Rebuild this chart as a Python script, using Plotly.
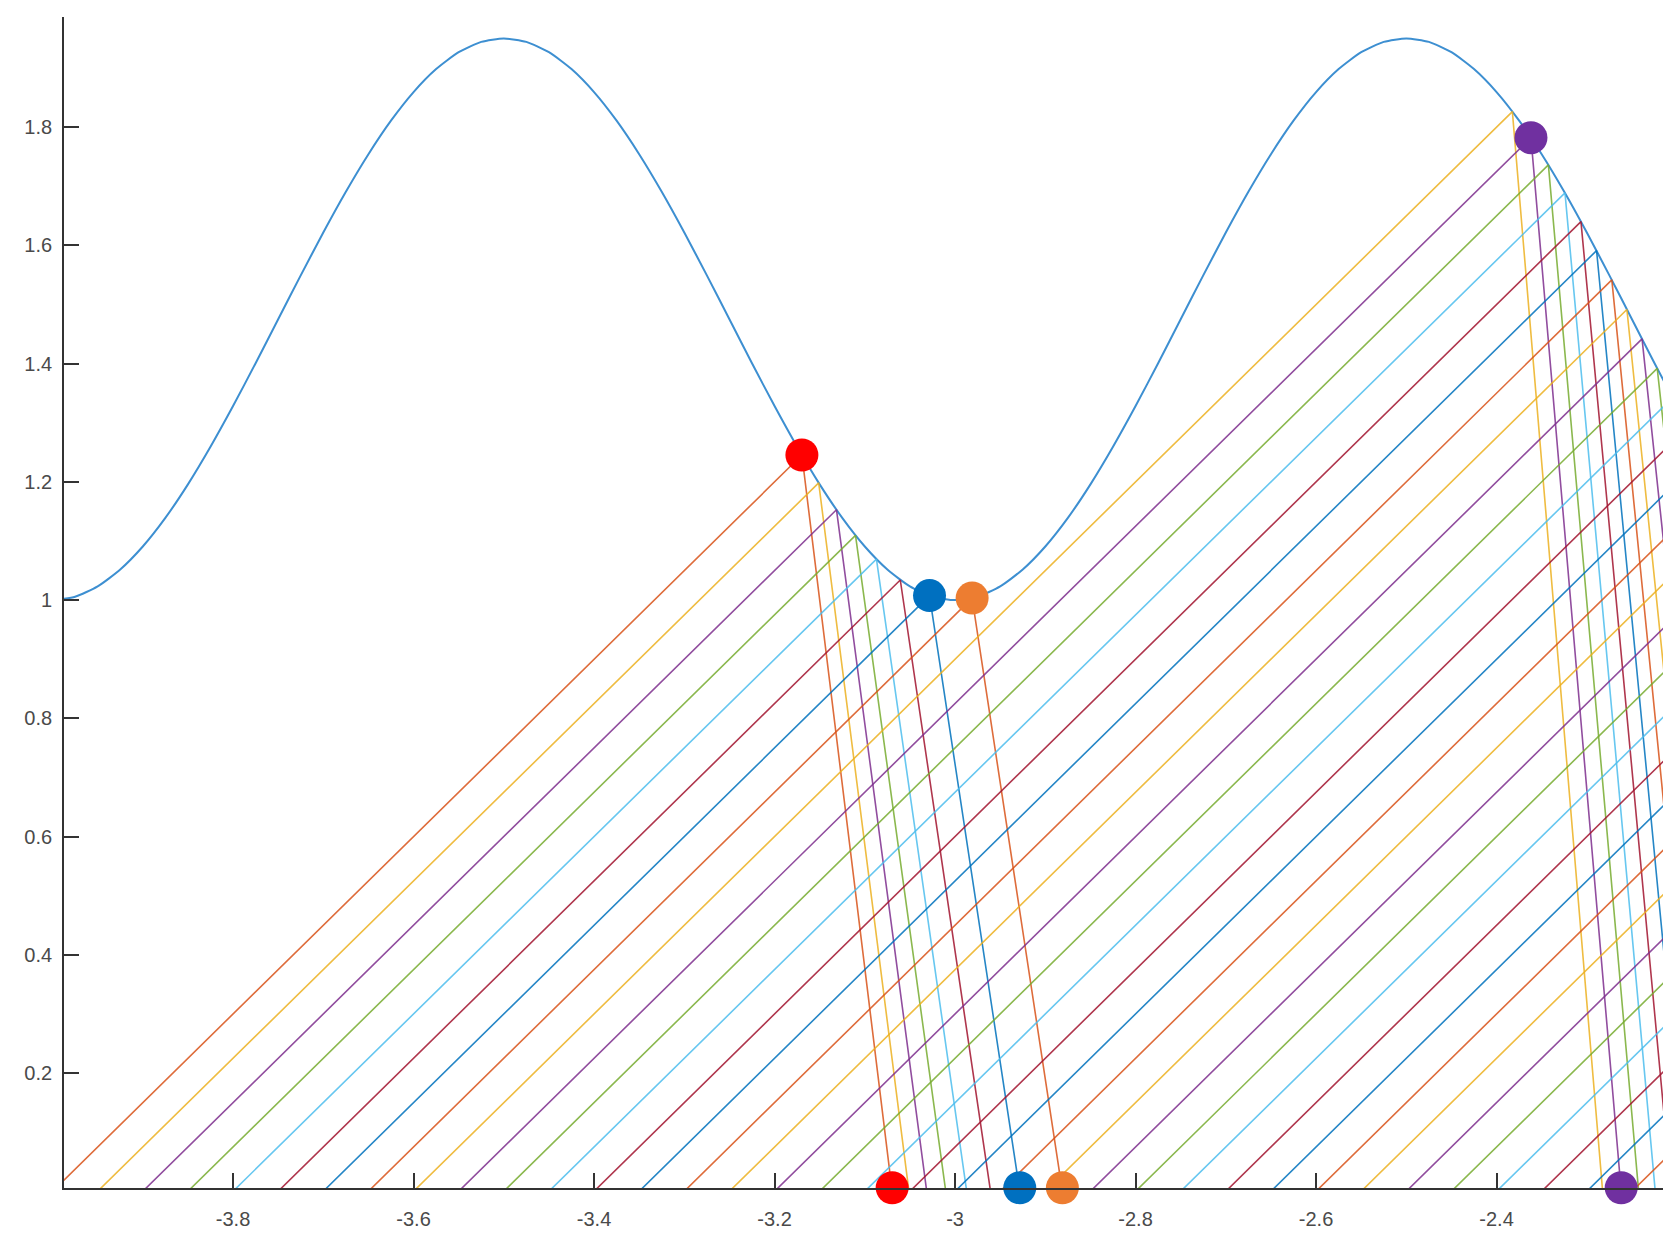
import plotly.graph_objects as go

# ---- data -------------------------------------------------------------
curve_x = [-4.0, -3.975, -3.95, -3.925, -3.9, -3.875, -3.85, -3.825, -3.8, -3.775,
           -3.75, -3.725, -3.7, -3.675, -3.65, -3.625, -3.6, -3.575, -3.55, -3.525,
           -3.5, -3.475, -3.45, -3.425, -3.4, -3.375, -3.35, -3.325, -3.3, -3.275,
           -3.25, -3.225, -3.2, -3.175, -3.15, -3.125, -3.1, -3.075, -3.05, -3.025,
           -3.0, -2.975, -2.95, -2.925, -2.9, -2.875, -2.85, -2.825, -2.8, -2.775,
           -2.75, -2.725, -2.7, -2.675, -2.65, -2.625, -2.6, -2.575, -2.55, -2.525,
           -2.5, -2.475, -2.45, -2.425, -2.4, -2.375, -2.35, -2.325, -2.3, -2.275,
           -2.25, -2.225, -2.2]
curve_y = [1.0, 1.0058, 1.0232, 1.0518, 1.0907, 1.1391, 1.1958, 1.2594, 1.3282, 1.4007,
           1.475, 1.5493, 1.6218, 1.6907, 1.7542, 1.8109, 1.8593, 1.8982, 1.9268, 1.9442,
           1.95, 1.9442, 1.9268, 1.8982, 1.8593, 1.8109, 1.7542, 1.6907, 1.6218, 1.5493,
           1.475, 1.4007, 1.3282, 1.2594, 1.1958, 1.1391, 1.0907, 1.0518, 1.0232, 1.0058,
           1.0, 1.0058, 1.0232, 1.0518, 1.0907, 1.1391, 1.1958, 1.2594, 1.3282, 1.4007,
           1.475, 1.5493, 1.6218, 1.6907, 1.7542, 1.8109, 1.8593, 1.8982, 1.9268, 1.9442,
           1.95, 1.9442, 1.9268, 1.8982, 1.8593, 1.8109, 1.7542, 1.6907, 1.6218, 1.5493,
           1.475, 1.4007, 1.3282]

# rays: start on the axis, rise to the curve, drop back to the axis
ray_start_x = [-4.0, -3.95, -3.9, -3.85, -3.8, -3.75, -3.7, -3.65, -3.6, -3.55,
               -3.5, -3.45, -3.4, -3.35, -3.3, -3.25, -3.2, -3.15, -3.1, -3.05,
               -3.0, -2.95, -2.9, -2.85, -2.8, -2.75, -2.7, -2.65, -2.6, -2.55,
               -2.5, -2.45, -2.4, -2.35, -2.3, -2.25, -2.2]
ray_hit_x = [-3.1697, -3.1511, -3.1314, -3.1103, -3.0871, -3.0607, -3.0283, -2.9811, -2.3825, -2.3619,
             -2.3426, -2.3242, -2.3065, -2.2892, -2.2723, -2.2556, -2.2388, -2.222, -2.205, -2.1876,
             -2.1697, -2.1511, -2.1314, -2.1103, -2.0871, -2.0607, -2.0283, -1.9811, -1.3825, -1.3619,
             -1.3426, -1.3242, -1.3065, -1.2892, -1.2723, -1.2556, -1.2388]
ray_hit_y = [1.2454, 1.1983, 1.1529, 1.1096, 1.0694, 1.034, 1.0076, 1.0034, 1.8262, 1.7822,
             1.7361, 1.6887, 1.6403, 1.5912, 1.5416, 1.4916, 1.4418, 1.392, 1.3425, 1.2936,
             1.2454, 1.1983, 1.1529, 1.1096, 1.0694, 1.034, 1.0076, 1.0034, 1.8262, 1.7822,
             1.7361, 1.6887, 1.6403, 1.5912, 1.5416, 1.4916, 1.4418]
ray_end_x = [-3.0697, -3.0511, -3.0314, -3.0103, -2.9871, -2.9607, -2.9283, -2.8811, -2.2825, -2.2619,
             -2.2426, -2.2242, -2.2065, -2.1892, -2.1723, -2.1556, -2.1388, -2.122, -2.105, -2.0876,
             -2.0697, -2.0511, -2.0314, -2.0103, -1.9871, -1.9607, -1.9283, -1.8811, -1.2825, -1.2619,
             -1.2426, -1.2242, -1.2065, -1.1892, -1.1723, -1.1556, -1.1388]

# highlighted points (on the curve and where their ray lands on the axis)
dot_top_x = [-3.1697, -3.0283, -2.9811, -2.3619]
dot_top_y = [1.2454, 1.0076, 1.0034, 1.7822]
dot_bottom_x = [-3.0697, -2.9283, -2.8811, -2.2619]
dot_bottom_y = [0.006, 0.006, 0.006, 0.006]
dot_colors = ["#FF0000", "#0070C0", "#ED7D31", "#7030A0"]

x_tick_vals = [-3.8, -3.6, -3.4, -3.2, -3.0, -2.8, -2.6, -2.4]
x_tick_text = ["-3.8", "-3.6", "-3.4", "-3.2", "-3", "-2.8", "-2.6", "-2.4"]
y_tick_vals = [0.2, 0.4, 0.6, 0.8, 1.0, 1.2, 1.4, 1.6, 1.8]
y_tick_text = ["0.2", "0.4", "0.6", "0.8", "1", "1.2", "1.4", "1.6", "1.8"]

# MATLAB default colour order
color_order = ["#0072BD", "#D95319", "#EDB120", "#7E2F8E", "#77AC30", "#4DBEEE", "#A2142F"]

# ---- figure -----------------------------------------------------------
fig = go.Figure()

fig.add_trace(go.Scatter(x=curve_x, y=curve_y, mode="lines",
                         line=dict(color="#3D8FD1", width=2.0, shape="spline", smoothing=0.6),
                         hoverinfo="skip", showlegend=False))

for k in range(len(ray_start_x)):
    fig.add_trace(go.Scatter(
        x=[ray_start_x[k], ray_hit_x[k], ray_end_x[k]],
        y=[0.0, ray_hit_y[k], 0.0],
        mode="lines",
        line=dict(color=color_order[(k + 1) % 7], width=1.6),
        opacity=0.85,
        hoverinfo="skip", showlegend=False))

fig.add_trace(go.Scatter(x=dot_top_x, y=dot_top_y, mode="markers",
                         marker=dict(color=dot_colors, size=33, line=dict(width=0)),
                         cliponaxis=False, showlegend=False))
fig.add_trace(go.Scatter(x=dot_bottom_x, y=dot_bottom_y, mode="markers",
                         marker=dict(color=dot_colors, size=33, line=dict(width=0)),
                         cliponaxis=False, showlegend=False))

axis_font = dict(family="Liberation Sans, Arial, sans-serif", size=20, color="#4a4a4a")

fig.update_layout(
    width=1665, height=1240,
    margin=dict(l=64, r=2, t=17, b=52),
    paper_bgcolor="white", plot_bgcolor="white",
    showlegend=False,
    xaxis=dict(range=[-3.9873, -2.2156], showgrid=False, zeroline=False,
               showline=True, linecolor="#333333", linewidth=1.8, mirror=False,
               ticks="inside", ticklen=15, tickwidth=1.5, tickcolor="#333333",
               tickvals=x_tick_vals, ticktext=x_tick_text, tickfont=axis_font,
               ticklabelstandoff=12),
    yaxis=dict(range=[0.0056, 1.9863], showgrid=False, zeroline=False,
               showline=True, linecolor="#333333", linewidth=1.8, mirror=False,
               ticks="inside", ticklen=15, tickwidth=1.5, tickcolor="#333333",
               tickvals=y_tick_vals, ticktext=y_tick_text, tickfont=axis_font,
               ticklabelstandoff=6),
)

fig.write_html("out.html",
               config={"displayModeBar": False},
               post_script="document.body.style.margin='0';document.body.style.overflow='hidden';")
